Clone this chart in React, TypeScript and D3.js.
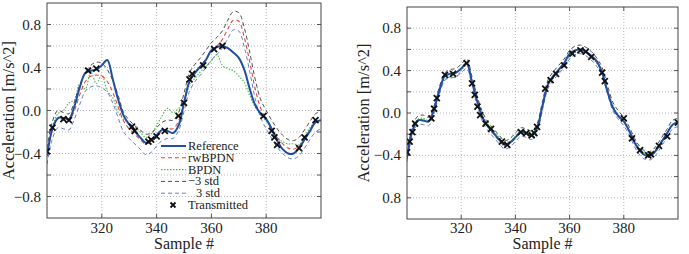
import React from "react";
import * as d3 from "d3";

// samples 300..400 step 2
const SAMPLES = d3.range(300, 401, 2);

const REF = [-0.42,-0.17,-0.07,-0.07,-0.08,0.04,0.22,0.35,0.37,0.38,0.42,0.47,0.29,0.10,-0.05,-0.13,-0.19,-0.25,-0.30,-0.28,-0.23,-0.18,-0.19,-0.21,-0.14,0.07,0.27,0.35,0.41,0.47,0.56,0.59,0.60,0.58,0.54,0.49,0.38,0.20,0.05,-0.03,-0.08,-0.17,-0.28,-0.36,-0.40,-0.40,-0.35,-0.27,-0.19,-0.11,-0.09];

// left panel
const RW1 = [-0.42,-0.18,-0.08,-0.09,-0.10,0.00,0.15,0.27,0.32,0.33,0.32,0.27,0.17,0.03,-0.10,-0.17,-0.22,-0.27,-0.31,-0.29,-0.24,-0.19,-0.17,-0.17,-0.10,0.08,0.27,0.35,0.41,0.48,0.55,0.60,0.66,0.76,0.84,0.83,0.68,0.45,0.20,0.02,-0.08,-0.17,-0.25,-0.31,-0.35,-0.36,-0.33,-0.26,-0.18,-0.11,-0.09];
const BPDN1 = [-0.40,-0.15,-0.03,0.00,0.07,0.10,0.25,0.20,0.36,0.25,0.33,0.18,0.12,-0.02,-0.08,-0.12,-0.15,-0.20,-0.25,-0.22,-0.14,-0.05,0.02,-0.02,0.02,0.08,0.24,0.30,0.36,0.41,0.46,0.52,0.42,0.39,0.37,0.32,0.26,0.14,0.03,-0.04,-0.10,-0.18,-0.25,-0.29,-0.31,-0.31,-0.32,-0.24,-0.16,-0.10,-0.09];
const LO1 = [-0.35,-0.10,0.00,-0.02,-0.03,0.08,0.24,0.36,0.42,0.45,0.44,0.38,0.28,0.14,-0.02,-0.09,-0.14,-0.18,-0.22,-0.21,-0.16,-0.11,-0.09,-0.09,-0.02,0.16,0.35,0.43,0.49,0.56,0.63,0.68,0.74,0.84,0.92,0.91,0.77,0.54,0.29,0.10,0.00,-0.09,-0.17,-0.23,-0.27,-0.28,-0.25,-0.18,-0.10,-0.03,-0.01];
const HI1 = [-0.50,-0.26,-0.16,-0.17,-0.18,-0.08,0.06,0.18,0.22,0.23,0.21,0.17,0.07,-0.07,-0.20,-0.26,-0.31,-0.36,-0.41,-0.39,-0.33,-0.28,-0.26,-0.26,-0.19,-0.01,0.18,0.27,0.33,0.40,0.47,0.52,0.58,0.67,0.75,0.74,0.59,0.36,0.11,-0.07,-0.17,-0.26,-0.34,-0.40,-0.44,-0.45,-0.42,-0.35,-0.27,-0.20,-0.17];
const TX1_S = [300,302,306,308,315,318,331,332,337,338,340,343,348,350,352,353,357,361,364,379,382,383,384,392,394,398];
const TX1_V = [-0.38,-0.16,-0.08,-0.09,0.37,0.39,-0.15,-0.19,-0.29,-0.27,-0.24,-0.19,-0.05,0.07,0.29,0.34,0.42,0.57,0.60,-0.05,-0.19,-0.25,-0.32,-0.35,-0.25,-0.09];

// right panel
const RW2 = [-0.43,-0.18,-0.08,-0.07,-0.08,0.03,0.21,0.34,0.37,0.38,0.42,0.46,0.30,0.11,-0.04,-0.13,-0.20,-0.26,-0.31,-0.29,-0.23,-0.18,-0.19,-0.21,-0.14,0.06,0.26,0.35,0.41,0.47,0.55,0.59,0.60,0.58,0.54,0.48,0.39,0.21,0.05,-0.03,-0.08,-0.17,-0.28,-0.36,-0.40,-0.40,-0.35,-0.27,-0.19,-0.11,-0.09];
const BPDN2 = [-0.41,-0.16,-0.06,-0.05,-0.07,0.04,0.20,0.32,0.34,0.34,0.40,0.45,0.30,0.12,-0.03,-0.11,-0.17,-0.23,-0.27,-0.27,-0.22,-0.17,-0.18,-0.19,-0.13,0.07,0.26,0.34,0.40,0.46,0.53,0.57,0.59,0.57,0.53,0.47,0.39,0.22,0.07,-0.02,-0.07,-0.16,-0.26,-0.34,-0.37,-0.37,-0.34,-0.27,-0.19,-0.11,-0.09];
const LO2 = [-0.38,-0.13,-0.03,-0.02,-0.04,0.07,0.25,0.38,0.41,0.42,0.46,0.51,0.34,0.15,0.00,-0.09,-0.15,-0.21,-0.26,-0.24,-0.19,-0.14,-0.15,-0.17,-0.10,0.11,0.31,0.39,0.45,0.51,0.59,0.63,0.64,0.62,0.58,0.52,0.43,0.26,0.10,0.02,-0.04,-0.13,-0.24,-0.32,-0.36,-0.36,-0.31,-0.23,-0.15,-0.07,-0.05];
const HI2 = [-0.46,-0.21,-0.11,-0.11,-0.12,0.00,0.18,0.31,0.33,0.34,0.38,0.42,0.26,0.06,-0.09,-0.17,-0.23,-0.29,-0.34,-0.32,-0.27,-0.22,-0.23,-0.25,-0.18,0.03,0.23,0.31,0.37,0.43,0.51,0.55,0.56,0.54,0.50,0.44,0.35,0.18,0.02,-0.06,-0.12,-0.21,-0.32,-0.40,-0.44,-0.44,-0.39,-0.31,-0.23,-0.15,-0.13];
const TX2_S = [300,301,302,303,309,310,311,314,317,322,324,325,326,327,329,331,335,337,342,344,346,347,348,351,353,355,358,361,364,366,368,372,373,380,383,386,389,390,393,396,400];
const TX2_V = [-0.37,-0.27,-0.18,-0.10,-0.05,0.04,0.14,0.36,0.37,0.47,0.28,0.17,0.06,-0.02,-0.10,-0.15,-0.27,-0.30,-0.18,-0.19,-0.21,-0.19,-0.13,0.23,0.31,0.37,0.45,0.56,0.59,0.58,0.53,0.38,0.30,-0.05,-0.24,-0.35,-0.40,-0.39,-0.31,-0.22,-0.09];

const X_TICKS = [320, 340, 360, 380];
const GRID_Y = [-0.8, -0.6, -0.4, -0.2, 0, 0.2, 0.4, 0.6, 0.8];
const Y_LABELS_1 = ["0.8", "0.4", "0.0", "\u22120.4", "\u22120.8"];
const Y_LABELS_2 = ["0.8", "0.4", "0.0", "\u22120.4", "0.8"];
const Y_LABEL_VALUES = [0.8, 0.4, 0, -0.4, -0.8];
const LEGEND = ["Reference", "rwBPDN", "BPDN", "\u22123 std", "3 std", "Transmitted"];

const FONT = "Liberation Serif, Times New Roman, serif";

const STY = {
  ref: { stroke: "#1f4ea3", width: 2, dash: "" },
  rw: { stroke: "#e5473f", width: 1.1, dash: "4,3" },
  bp: { stroke: "#49b84a", width: 1.1, dash: "1.5,1.5" },
  lo: { stroke: "#222", width: 0.8, dash: "4,3" },
  hi: { stroke: "#3d5ec8", width: 0.8, dash: "4,3" },
};

function XMark({ x, y, s = 3 }: { x: number; y: number; s?: number }) {
  return (
    <path d={`M${x - s},${y - s}L${x + s},${y + s}M${x - s},${y + s}L${x + s},${y - s}`} stroke="#111" strokeWidth={1.8} />
  );
}

function Panel({ id, left, right, top, bottom, series, txS, txV, yLabels, legend, labelX }: any) {
  const x = d3.scaleLinear().domain([300, 400]).range([left, right]);
  const y = d3.scaleLinear().domain([-1, 1]).range([bottom, top]);
  const line = d3
    .line<number>()
    .x((_, i) => x(SAMPLES[i]))
    .y((d) => y(d))
    .curve(d3.curveCatmullRom.alpha(0.5));
  const order = ["bp", "lo", "hi", "rw", "ref"];
  const ts = { fontFamily: FONT };
  return (
    <g>
      <defs>
        <clipPath id={id}>
          <rect x={left} y={top} width={right - left} height={bottom - top} />
        </clipPath>
      </defs>
      {X_TICKS.map((t) => (
        <line key={"gx" + t} x1={x(t)} x2={x(t)} y1={top} y2={bottom} stroke="#aaa" strokeWidth={0.8} strokeDasharray="1,2" />
      ))}
      {GRID_Y.map((t) => (
        <line key={"gy" + t} x1={left} x2={right} y1={y(t)} y2={y(t)} stroke="#aaa" strokeWidth={0.8} strokeDasharray="1,2" />
      ))}
      {X_TICKS.map((t) => (
        <g key={"tx" + t}>
          <line x1={x(t)} x2={x(t)} y1={bottom} y2={bottom - 4} stroke="#555" />
          <line x1={x(t)} x2={x(t)} y1={top} y2={top + 4} stroke="#555" />
          <text x={x(t)} y={233} textAnchor="middle" style={ts} fontSize={15} fill="#222">
            {t}
          </text>
        </g>
      ))}
      {GRID_Y.map((t) => (
        <g key={"ty" + t}>
          <line x1={left} x2={left + 4} y1={y(t)} y2={y(t)} stroke="#555" />
          <line x1={right} x2={right - 4} y1={y(t)} y2={y(t)} stroke="#555" />
        </g>
      ))}
      {Y_LABEL_VALUES.map((v, i) => (
        <text key={"yl" + i} x={left - 6} y={y(v) + 5} textAnchor="end" style={ts} fontSize={15} fill="#222">
          {yLabels[i]}
        </text>
      ))}
      <g clipPath={`url(#${id})`}>
        {order.map((k) => (
          <path
            key={k}
            d={line(series[k]) || ""}
            fill="none"
            stroke={(STY as any)[k].stroke}
            strokeWidth={(STY as any)[k].width}
            strokeDasharray={(STY as any)[k].dash}
          />
        ))}
        {txS.map((s: number, i: number) => (
          <XMark key={"m" + i} x={x(s)} y={y(txV[i])} />
        ))}
      </g>
      <rect x={left} y={top} width={right - left} height={bottom - top} fill="none" stroke="#444" strokeWidth={1} />
      <text
        transform={`translate(${labelX},${(top + bottom) / 2}) rotate(-90)`}
        textAnchor="middle"
        dominantBaseline="central"
        style={ts}
        fontSize={16.5}
        fill="#222"
      >
        Acceleration [m/s^2]
      </text>
      <text x={(left + right) / 2} y={249} textAnchor="middle" style={ts} fontSize={16} fill="#222">
        Sample #
      </text>
      {legend && (
        <g style={ts} fontSize={12.5} fill="#222">
          {["ref", "rw", "bp", "lo", "hi"].map((k, i) => (
            <g key={"lg" + k}>
              <line
                x1={161}
                x2={186}
                y1={146 + i * 11.8}
                y2={146 + i * 11.8}
                stroke={(STY as any)[k].stroke}
                strokeWidth={(STY as any)[k].width}
                strokeDasharray={(STY as any)[k].dash}
              />
              <text x={k === "hi" ? 196 : 188} y={146 + i * 11.8 + 4}>
                {LEGEND[i]}
              </text>
            </g>
          ))}
          <XMark x={173} y={146 + 5 * 11.8} s={2.5} />
          <text x={188} y={146 + 5 * 11.8 + 4}>
            {LEGEND[5]}
          </text>
        </g>
      )}
    </g>
  );
}

export default function App() {
  return (
    <svg width={689} height={254} style={{ position: "absolute", left: 0, top: 0, background: "#fff" }}>
      <rect width={689} height={254} fill="#fff" />
      <Panel
        id="clipL"
        left={47}
        right={321}
        top={3}
        bottom={218}
        series={{ ref: REF, rw: RW1, bp: BPDN1, lo: LO1, hi: HI1 }}
        txS={TX1_S}
        txV={TX1_V}
        yLabels={Y_LABELS_1}
        legend={true}
        labelX={8}
      />
      <Panel
        id="clipR"
        left={407}
        right={678}
        top={7}
        bottom={219}
        series={{ ref: REF, rw: RW2, bp: BPDN2, lo: LO2, hi: HI2 }}
        txS={TX2_S}
        txV={TX2_V}
        yLabels={Y_LABELS_2}
        legend={false}
        labelX={363}
      />
    </svg>
  );
}
